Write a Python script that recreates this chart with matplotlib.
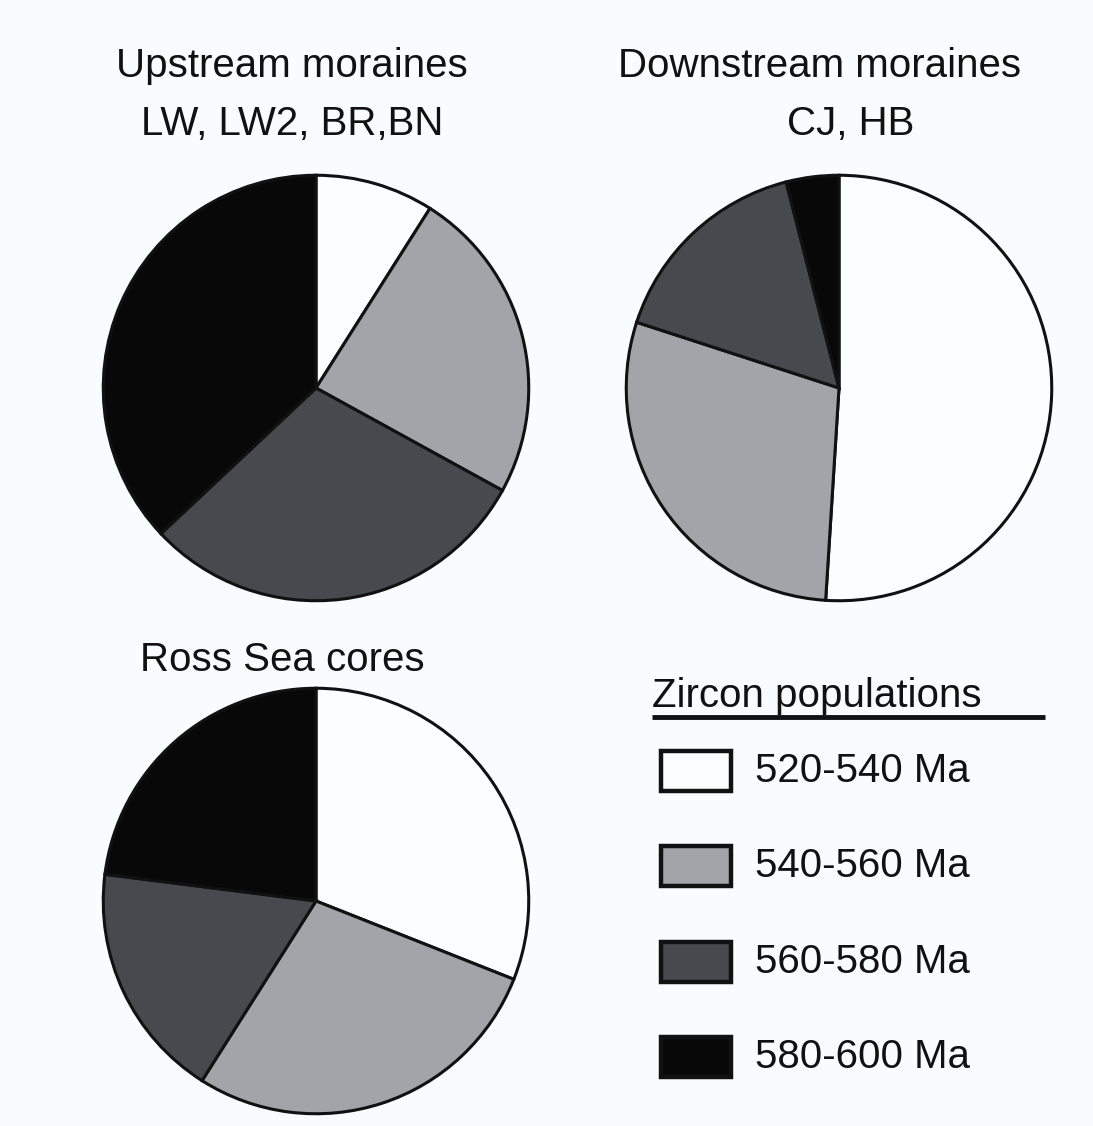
import matplotlib.pyplot as plt
from matplotlib.patches import Rectangle

plt.rcParams['font.family'] = ['Liberation Sans', 'DejaVu Sans']

# zircon age populations (percent of grains)
populations = ['520-540 Ma', '540-560 Ma', '560-580 Ma', '580-600 Ma']
colors = ['#fbfeff', '#a1a4a8', '#46494e', '#080808']

upstream = [9, 24, 30, 37]
downstream = [51, 29, 16, 4]
ross_sea = [31, 28, 18, 23]

W, H = 1093, 1126
fig = plt.figure(figsize=(W / 100, H / 100), dpi=100, facecolor='#f8fcfe')


def px_axes(cx, cy, r):
    # axes box in pixel units (origin top-left)
    return fig.add_axes([(cx - r) / W, 1 - (cy + r) / H, 2 * r / W, 2 * r / H])


def draw_pie(cx, cy, values):
    ax = px_axes(cx, cy, 217)
    ax.pie(values, colors=colors, startangle=90, counterclock=False,
           wedgeprops=dict(edgecolor='#111111', linewidth=2.2))
    ax.set_xlim(-1.02, 1.02)
    ax.set_ylim(-1.02, 1.02)
    ax.set_aspect('equal')
    ax.axis('off')


draw_pie(316, 388, upstream)
draw_pie(839, 388, downstream)
draw_pie(316, 901, ross_sea)

FS = 29

# titles
def ftext(x, y, s):
    fig.text(x / W, 1 - y / H, s, ha='center', va='center', fontsize=FS,
             color='#111111')

ftext(292, 66, 'Upstream moraines')
ftext(292, 124, 'LW, LW2, BR,BN')
ftext(820, 66, 'Downstream moraines')
ftext(851, 124, 'CJ, HB')
ftext(282, 660, 'Ross Sea cores')

# legend
lax = fig.add_axes([0, 0, 1, 1])
lax.set_xlim(0, W)
lax.set_ylim(H, 0)
lax.axis('off')
lax.text(652, 696, 'Zircon populations', fontsize=FS, ha='left', va='center',
         color='#111111')
lax.plot([652, 1045], [717, 717], color='#111111', lw=3.5, solid_capstyle='butt')
row_y = [771, 866, 962, 1057]
for label, c, y in zip(populations, colors, row_y):
    lax.add_patch(Rectangle((661, y - 20), 70, 40, facecolor=c,
                            edgecolor='#111111', linewidth=3.2))
    lax.text(755, y, label, fontsize=FS, ha='left', va='center', color='#111111')

fig.savefig('out.png', dpi=100, facecolor=fig.get_facecolor())
